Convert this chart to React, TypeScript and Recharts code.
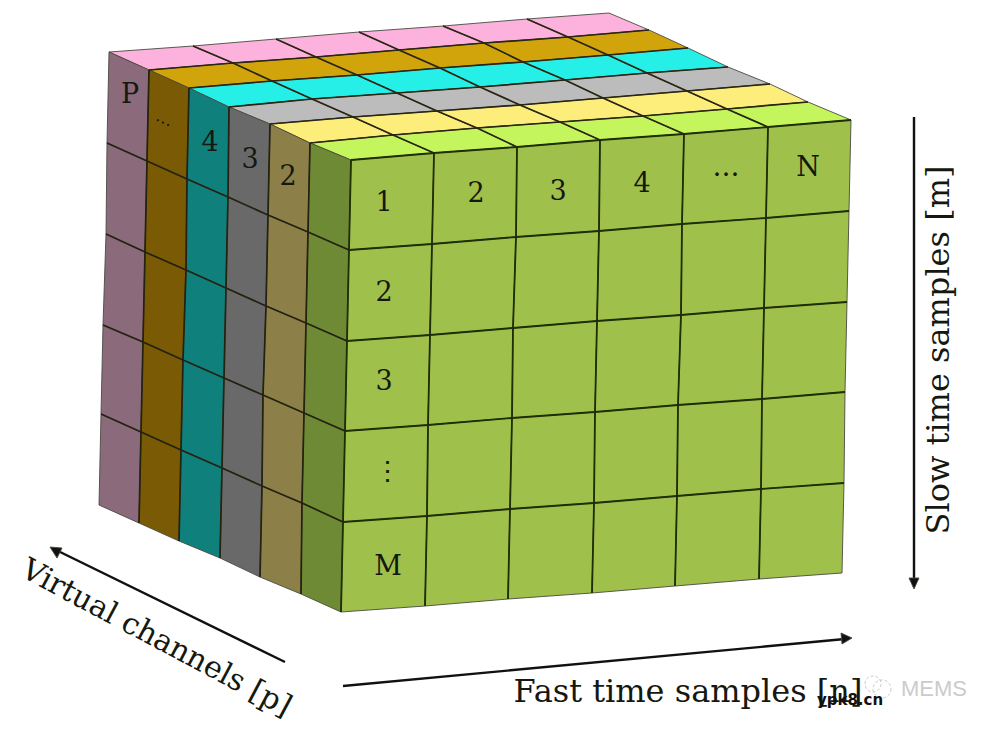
import { Scatter, ScatterChart, XAxis, YAxis } from "recharts";

type Pt = [number, number];

const WIDTH = 997;
const HEIGHT = 729;

// lattice vertices, top row first, left column first
const frontLattice: Pt[][] = [
  [[351, 160], [434, 153], [517, 147], [600, 140], [684, 134], [768, 127], [851, 120]],
  [[349, 250], [432, 244], [516, 237], [599, 231], [682, 224], [766, 218], [849, 211]],
  [[347, 341], [430, 335], [513, 328], [597, 321], [681, 315], [764, 308], [847, 302]],
  [[345, 431], [428, 425], [512, 418], [595, 412], [678, 405], [762, 399], [845, 392]],
  [[343, 522], [427, 516], [510, 509], [594, 503], [677, 496], [761, 489], [844, 483]],
  [[341, 612], [425, 606], [508, 599], [592, 593], [675, 586], [759, 579], [842, 573]],
];

const leftLattice: Pt[][] = [
  [[109, 52], [149, 70], [189, 88], [229, 107], [270, 124], [310, 143], [351, 160]],
  [[107, 143], [147, 161], [187, 179], [228, 197], [268, 215], [308, 232], [349, 250]],
  [[106, 234], [145, 252], [186, 270], [226, 288], [266, 306], [306, 323], [347, 341]],
  [[103, 325], [143, 342], [183, 360], [224, 378], [263, 395], [304, 413], [345, 431]],
  [[101, 414], [141, 432], [181, 450], [222, 468], [262, 486], [302, 503], [343, 522]],
  [[99, 505], [139, 523], [179, 541], [220, 558], [260, 577], [301, 594], [341, 612]],
];

const topLattice: Pt[][] = [
  [[109, 52], [193, 46], [276, 39], [359, 32], [443, 26], [527, 19], [609, 13]],
  [[149, 70], [233, 63], [316, 57], [399, 50], [484, 43], [568, 37], [649, 30]],
  [[189, 88], [272, 81], [357, 75], [440, 68], [523, 62], [608, 55], [688, 48]],
  [[229, 107], [312, 99], [397, 93], [480, 87], [565, 80], [647, 73], [728, 67]],
  [[270, 124], [353, 117], [437, 111], [520, 105], [603, 98], [687, 91], [770, 84]],
  [[310, 143], [393, 135], [477, 128], [560, 122], [643, 116], [727, 109], [808, 102]],
  [[351, 160], [434, 153], [517, 147], [600, 140], [684, 134], [768, 127], [851, 120]],
];

const topColors = ["#fcb2dc", "#d2a40c", "#25efe6", "#bcbcbc", "#fdee7c", "#c5f55c"];
const sideColors = ["#8b6a7c", "#7a5a04", "#10807c", "#696969", "#8c8048", "#6f8a34"];
const frontColor = "#a0c04c";

const rowLabels = ["1", "2", "3", "⋮", "M"];
const rowLabelSpots: Pt[] = [[384, 201], [384, 291], [384, 380], [387, 470], [388, 565]];
const colLabels = ["2", "3", "4", "…", "N"];
const colLabelSpots: Pt[] = [[476, 192], [558, 190], [642, 182], [726, 166], [808, 166]];
const sliceLabels = ["P", "4", "3", "2"];
const sliceLabelSpots: Pt[] = [[130, 93], [210, 141], [250, 158], [288, 175]];

const slowArrow: Pt[] = [[914, 117], [914, 582]];
const fastArrow: Pt[] = [[343, 686], [845, 639]];
const virtualArrow: Pt[] = [[285, 662], [56, 550]];
const arrowTips: Pt[][] = [
  [[914, 589], [909, 578], [919, 578]],
  [[852, 638], [841, 633], [842, 644]],
  [[50, 547], [62, 548], [57, 558]],
];

const iconCircles = [
  { x: 873, y: 684, r: 8 },
  { x: 882, y: 689, r: 9 },
];

const toQuads = (lattice: Pt[][], fillOf: (row: number, col: number) => string) =>
  lattice.slice(0, -1).flatMap((line, r) =>
    line.slice(0, -1).map((p, c) => ({
      x: p[0],
      y: p[1],
      corners: [p, line[c + 1], lattice[r + 1][c + 1], lattice[r + 1][c]],
      fill: fillOf(r, c),
    }))
  );

const toLine = (pts: Pt[]) => pts.map(([x, y]) => ({ x, y }));
const columns = (lattice: Pt[][]) => lattice[0].map((_, c) => lattice.map((row) => row[c]));

const toTexts = (labels: string[], spots: Pt[]) =>
  labels.map((text, i) => ({ x: spots[i][0], y: spots[i][1], text }));

// the x and y axes map one unit to one pixel, so the other corners are offsets from the anchor
const QuadShape = (props: any) => {
  const { cx, cy, payload } = props;
  const pts = payload.corners
    .map(([a, b]: Pt) => `${cx + a - payload.x},${cy + b - payload.y}`)
    .join(" ");
  return <polygon points={pts} fill={payload.fill} stroke="#4a4a40" strokeWidth={0.9} />;
};

const NoDot = () => <g />;

const IconCircle = (props: any) => (
  <circle
    cx={props.cx}
    cy={props.cy}
    r={props.payload.r}
    fill="none"
    stroke="#c9c9c9"
    strokeWidth={1}
    strokeDasharray="3 2"
  />
);

const makeText = (size: number, fill = "#15180f", family = "'DejaVu Serif'", rotate = 0, weight = 400) => (props: any) => {
  const { cx, cy, payload } = props;
  return (
    <text
      x={cx}
      y={cy}
      fontFamily={family}
      fontSize={size}
      fontWeight={weight}
      fill={fill}
      textAnchor="middle"
      dominantBaseline="central"
      transform={rotate ? `rotate(${rotate} ${cx} ${cy})` : undefined}
    >
      {payload.text}
    </text>
  );
};

const innerLines = (lattice: Pt[][], color: string, width: number) =>
  [...lattice.slice(1, -1), ...columns(lattice).slice(1, -1)].map((pts, i) => (
    <Scatter
      key={`${color}-${i}`}
      data={toLine(pts)}
      line={{ stroke: color, strokeWidth: width }}
      shape={NoDot}
      isAnimationActive={false}
    />
  ));

const App = () => {
  return (
    <div style={{ position: "absolute", left: 0, top: 0, width: WIDTH, height: HEIGHT, background: "#fff" }}>
      <ScatterChart width={WIDTH} height={HEIGHT} margin={{ top: 0, right: 0, bottom: 0, left: 0 }}>
        <XAxis type="number" dataKey="x" domain={[0, WIDTH]} hide />
        <YAxis type="number" dataKey="y" domain={[0, HEIGHT]} reversed hide />

        <Scatter data={toQuads(topLattice, (r) => topColors[r])} shape={QuadShape} isAnimationActive={false} />
        <Scatter data={toQuads(leftLattice, (_, c) => sideColors[c])} shape={QuadShape} isAnimationActive={false} />
        <Scatter data={toQuads(frontLattice, () => frontColor)} shape={QuadShape} isAnimationActive={false} />

        {innerLines(topLattice, "#2a2614", 1.7)}
        {innerLines(leftLattice, "#242210", 1.7)}
        {innerLines(frontLattice, "#1f2e04", 1.8)}

        <Scatter data={toLine(topLattice[6])} line={{ stroke: "#1f2e04", strokeWidth: 1.8 }} shape={NoDot} isAnimationActive={false} />
        <Scatter data={toLine(columns(leftLattice)[6])} line={{ stroke: "#1f2e04", strokeWidth: 1.8 }} shape={NoDot} isAnimationActive={false} />

        <Scatter data={toLine(slowArrow)} line={{ stroke: "#111", strokeWidth: 2.4 }} shape={NoDot} isAnimationActive={false} />
        <Scatter data={toLine(fastArrow)} line={{ stroke: "#111", strokeWidth: 2.4 }} shape={NoDot} isAnimationActive={false} />
        <Scatter data={toLine(virtualArrow)} line={{ stroke: "#111", strokeWidth: 2.4 }} shape={NoDot} isAnimationActive={false} />
        <Scatter
          data={arrowTips.map((tip) => ({ x: tip[0][0], y: tip[0][1], corners: tip, fill: "#111" }))}
          shape={QuadShape}
          isAnimationActive={false}
        />

        <Scatter data={toTexts(rowLabels, rowLabelSpots)} shape={makeText(27)} isAnimationActive={false} />
        <Scatter data={toTexts(colLabels, colLabelSpots)} shape={makeText(27)} isAnimationActive={false} />
        <Scatter data={toTexts(sliceLabels, sliceLabelSpots)} shape={makeText(27)} isAnimationActive={false} />
        <Scatter
          data={toTexts(["…"], [[165, 118]])}
          shape={makeText(17, "#15180f", "'DejaVu Serif'", 25)}
          isAnimationActive={false}
        />

        <Scatter
          data={toTexts(["Slow time samples [m]"], [[938, 350]])}
          shape={makeText(32, "#15180f", "'DejaVu Serif'", -90)}
          isAnimationActive={false}
        />
        <Scatter data={toTexts(["Fast time samples [n]"], [[688, 691]])} shape={makeText(32)} isAnimationActive={false} />
        <Scatter
          data={toTexts(["Virtual channels [p]"], [[157, 637]])}
          shape={makeText(30, "#15180f", "'DejaVu Serif'", 28)}
          isAnimationActive={false}
        />

        <Scatter data={iconCircles} shape={IconCircle} isAnimationActive={false} />
        <Scatter data={toTexts(["MEMS"], [[934, 688]])} shape={makeText(22, "#cbcbcb", "'Liberation Sans'")} isAnimationActive={false} />
        <Scatter
          data={toTexts(["ypk8.cn"], [[850, 700]])}
          shape={makeText(15, "#111", "'DejaVu Sans'", 0, 700)}
          isAnimationActive={false}
        />
      </ScatterChart>
    </div>
  );
};

export default App;
